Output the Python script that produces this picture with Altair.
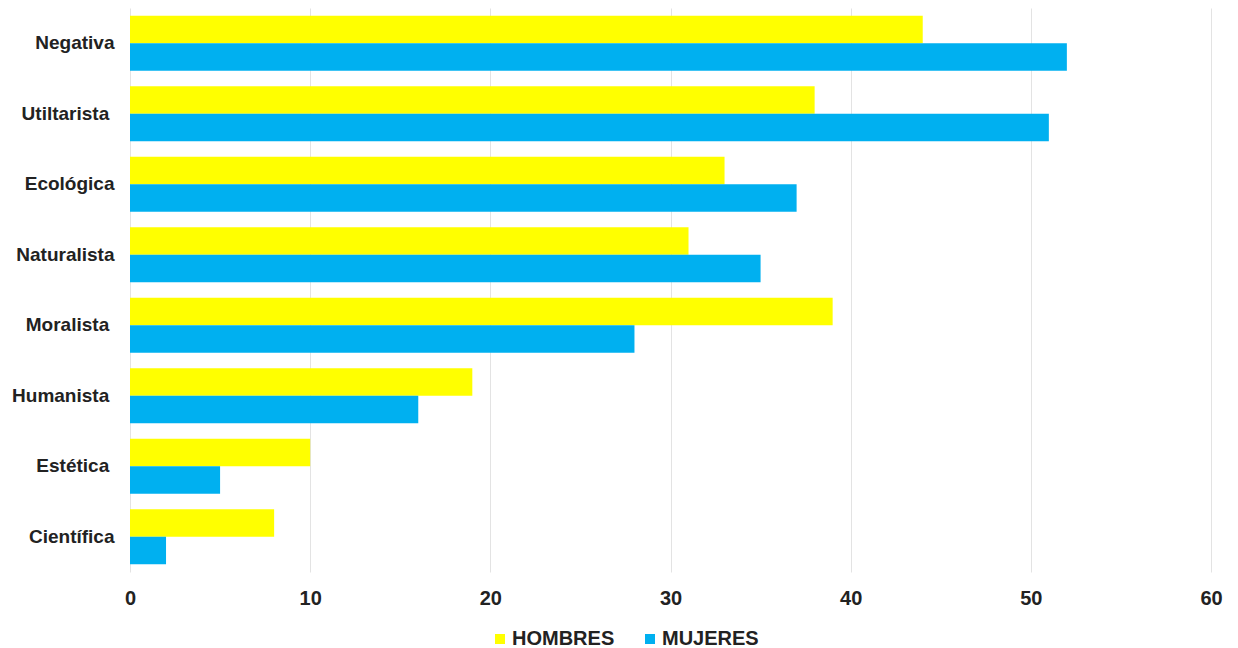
import altair as alt
import pandas as pd

categorias = ["Negativa", "Utiltarista", "Ecológica", "Naturalista", "Moralista", "Humanista", "Estética", "Científica"]
hombres = [44, 38, 33, 31, 39, 19, 10, 8]
mujeres = [52, 51, 37, 35, 28, 16, 5, 2]
series = ["HOMBRES", "MUJERES"]
colores = ["#FFFF00", "#00B0F0"]
x_ticks = [0, 10, 20, 30, 40, 50, 60]

rows = []
for c, h, m in zip(categorias, hombres, mujeres):
    rows.append({"categoria": c, "serie": "HOMBRES", "valor": h})
    rows.append({"categoria": c, "serie": "MUJERES", "valor": m})
df = pd.DataFrame(rows)

# labels that carry a trailing space in the original chart
trailing = ["Utiltarista", "Moralista", "Humanista", "Estética"]
label_expr = " || ".join([f"datum.label == '{t}'" for t in trailing])

FONT = "Liberation Sans"

chart = alt.Chart(df).mark_bar().encode(
    x=alt.X("valor:Q",
            scale=alt.Scale(domain=[0, 60], nice=False),
            axis=alt.Axis(values=x_ticks, title=None, domain=False, ticks=False,
                          labelFlush=False,
                          labelPadding=16, labelFontSize=20, labelFontWeight="bold",
                          labelColor="#222222", labelFont=FONT,
                          gridColor="#e3e3e3", gridWidth=1)),
    y=alt.Y("categoria:N", sort=categorias,
            scale=alt.Scale(paddingInner=0.22, paddingOuter=0.11),
            axis=alt.Axis(title=None, domain=False, ticks=False, grid=False,
                          labelPadding=16, labelFontSize=19, labelFontWeight="bold",
                          labelColor="#222222", labelFont=FONT, labelLimit=300,
                          labelExpr=f"({label_expr}) ? datum.label + '\u00a0\u200b' : datum.label")),
    yOffset=alt.YOffset("serie:N", scale=alt.Scale(domain=series, paddingInner=0, paddingOuter=0)),
    color=alt.Color("serie:N",
                    scale=alt.Scale(domain=series, range=colores),
                    legend=alt.Legend(title=None, orient="none", direction="horizontal",
                                      legendX=360, legendY=621, symbolType="square",
                                      symbolSize=100, symbolStrokeWidth=0,
                                      labelFontSize=20, labelFontWeight="bold",
                                      labelColor="#222222", labelFont=FONT, labelLimit=300,
                                      columnPadding=25, labelOffset=2)),
).properties(
    width=1081, height=564,
    autosize=alt.AutoSizeParams(type="none"),
    padding={"left": 122, "top": 0, "right": 15, "bottom": 82},
).configure_view(stroke=None)

chart.save("out.html", embed_options={"renderer": "svg", "actions": False})
